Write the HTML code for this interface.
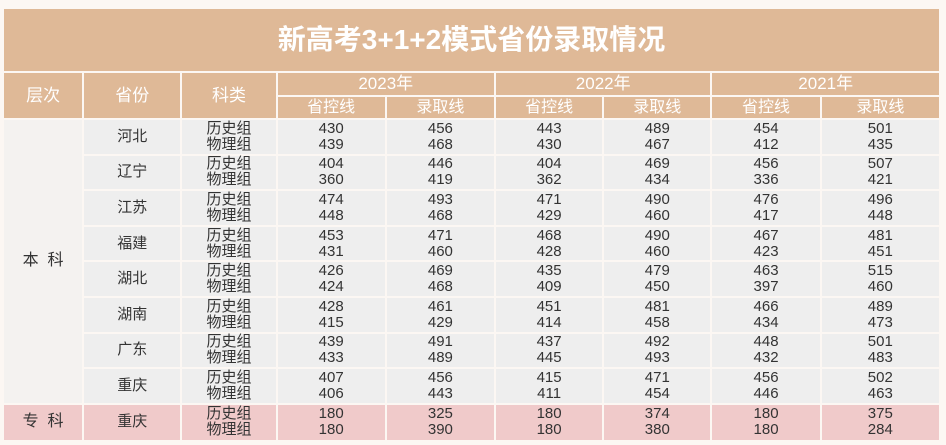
<!DOCTYPE html>
<html><head><meta charset="utf-8"><style>
html,body{margin:0;padding:0;background:#fcf7f3;width:946px;height:445px;overflow:hidden}
table{position:absolute;left:2px;top:7px;border-collapse:separate;border-spacing:2px;table-layout:fixed;width:939px;font-family:"Liberation Sans","Noto Sans CJK SC",sans-serif}
td{padding:0;text-align:center;vertical-align:middle;color:#333;font-size:15px;line-height:16px;background:#eeeeee}
.h td,td.h{background:#dfb997;color:#fff;font-size:16px}
.t td{height:62px;font-size:28px;font-weight:bold;color:#fff;background:#dfb997}
.y td{height:22px;font-size:17px}
.s td{height:21px}
.d td{height:33.6px}
.zk td{background:#f0caca;height:35px}
.bk{background:#f4f2f0}
</style></head><body>
<table>
<colgroup><col style="width:78px"><col style="width:96px"><col style="width:93px"><col style="width:107px"><col style="width:107px"><col style="width:106px"><col style="width:106px"><col style="width:107px"><col style="width:117px"></colgroup>
<tr class="t"><td colspan="9">新高考3+1+2模式省份录取情况</td></tr>
<tr class="h y"><td rowspan="2">层次</td><td rowspan="2">省份</td><td rowspan="2">科类</td><td colspan="2">2023年</td><td colspan="2">2022年</td><td colspan="2">2021年</td></tr>
<tr class="h s"><td>省控线</td><td>录取线</td><td>省控线</td><td>录取线</td><td>省控线</td><td>录取线</td></tr>
<tbody id="body"></tbody>
</table>
<script>
const provinces=["河北","辽宁","江苏","福建","湖北","湖南","广东","重庆"];
const rows=[
[430,439,456,468,443,430,489,467,454,412,501,435],
[404,360,446,419,404,362,469,434,456,336,507,421],
[474,448,493,468,471,429,490,460,476,417,496,448],
[453,431,471,460,468,428,490,460,467,423,481,451],
[426,424,469,468,435,409,479,450,463,397,515,460],
[428,415,461,429,451,414,481,458,466,434,489,473],
[439,433,491,489,437,445,492,493,448,432,501,483],
[407,406,456,443,415,411,471,454,456,446,502,463]];
const zkRow=[180,180,325,390,180,180,374,380,180,180,375,284];
const tb=document.getElementById('body');
function addRow(level,levelSpan,prov,vals,cls,idx){
  const tr=document.createElement('tr');tr.className=cls;
  
  
  if(level!==null){const c=document.createElement('td');c.rowSpan=levelSpan;c.innerHTML=level;c.style.fontSize='16px';
    if(cls==='d')c.className='bk';
    
    
    tr.appendChild(c);}
  const p=document.createElement('td');p.textContent=prov;
  
  
  tr.appendChild(p);
  const s=document.createElement('td');s.innerHTML='历史组<br>物理组';
  
  
  tr.appendChild(s);
  for(let i=0;i<12;i+=2){const c=document.createElement('td');c.innerHTML=vals[i]+'<br>'+vals[i+1];
    
    
    tr.appendChild(c);}
  tb.appendChild(tr);
}
provinces.forEach((p,i)=>addRow(i===0?'本&nbsp;&nbsp;科':null,8,p,rows[i],'d',i));
addRow('专&nbsp;&nbsp;科',1,'重庆',zkRow,'zk',8);
</script>
</body></html>
